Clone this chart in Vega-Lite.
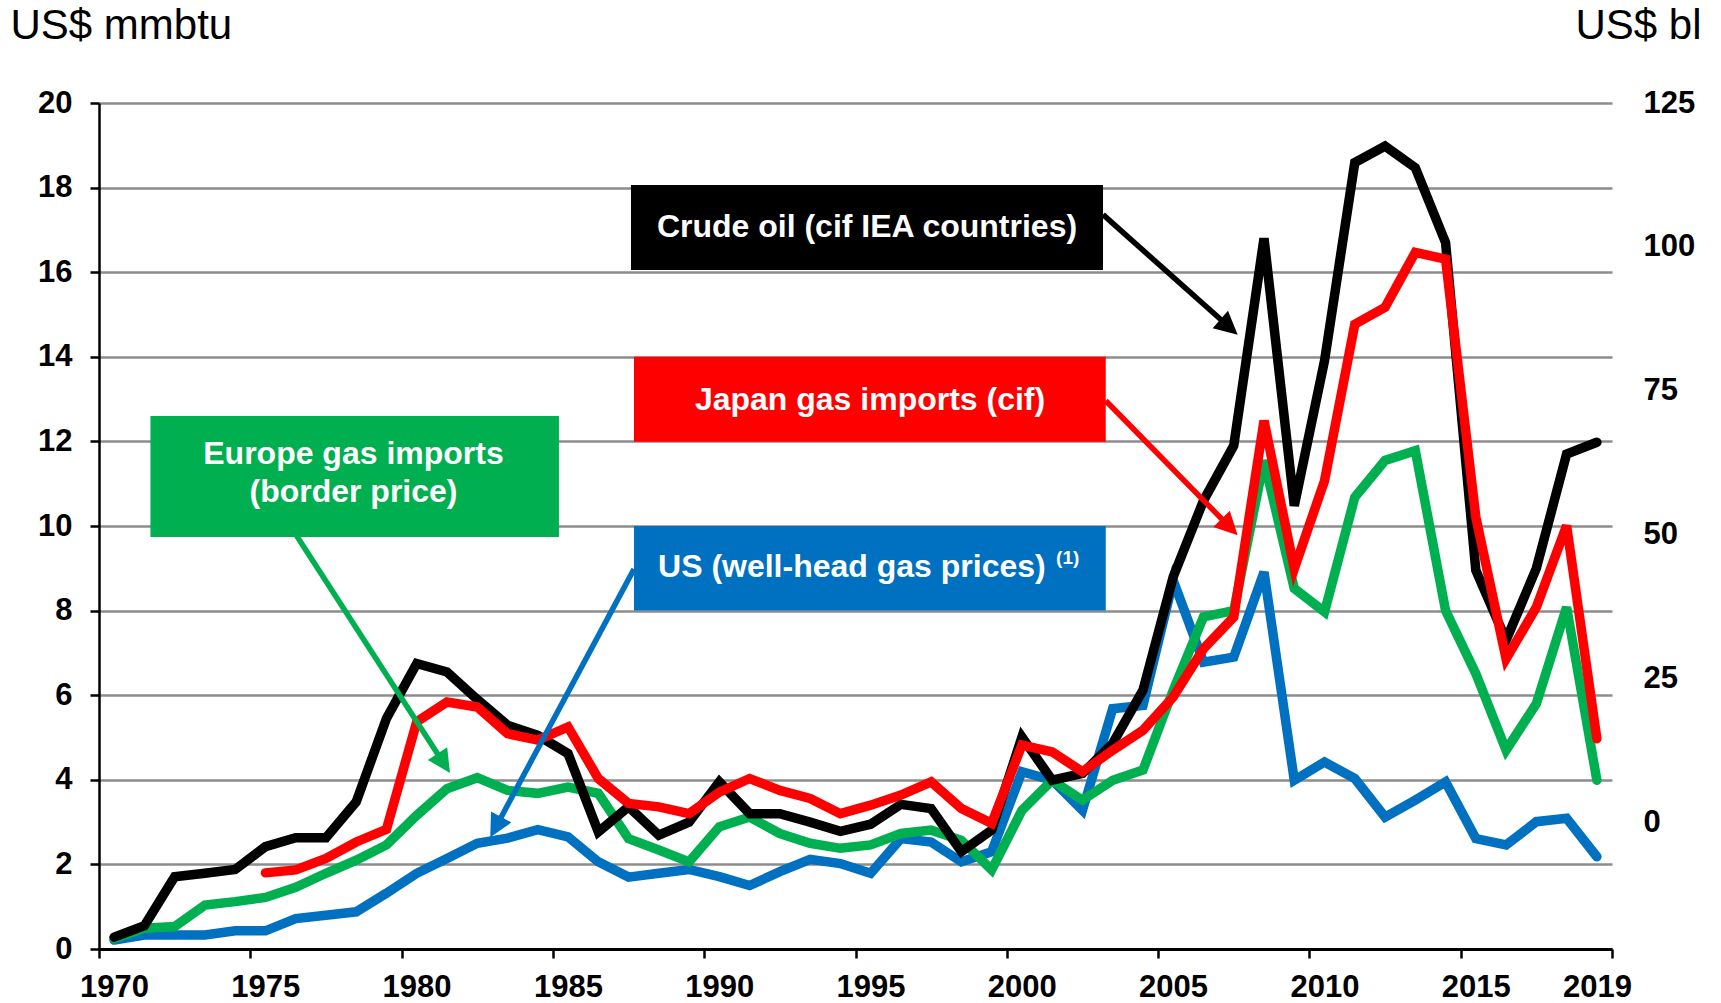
{
  "$schema": "https://vega.github.io/schema/vega-lite/v6.json",
  "autosize": {"type": "none"},
  "width": 1513,
  "height": 846,
  "padding": {"left": 99, "top": 103, "right": 109, "bottom": 54},
  "background": "white",
  "config": {"view": {"stroke": null}, "font": "Liberation Sans"},
  "datasets": {
    "crude": [
      {"year":1970,"value":0.28},{"year":1971,"value":0.55},{"year":1972,"value":1.71},{"year":1973,"value":1.79},{"year":1974,"value":1.88},
      {"year":1975,"value":2.42},{"year":1976,"value":2.63},{"year":1977,"value":2.63},{"year":1978,"value":3.48},{"year":1979,"value":5.45},
      {"year":1980,"value":6.75},{"year":1981,"value":6.55},{"year":1982,"value":5.9},{"year":1983,"value":5.29},{"year":1984,"value":5.05},
      {"year":1985,"value":4.62},{"year":1986,"value":2.77},{"year":1987,"value":3.36},{"year":1988,"value":2.69},{"year":1989,"value":3.0},
      {"year":1990,"value":3.95},{"year":1991,"value":3.2},{"year":1992,"value":3.2},{"year":1993,"value":3.0},{"year":1994,"value":2.78},
      {"year":1995,"value":2.95},{"year":1996,"value":3.42},{"year":1997,"value":3.32},{"year":1998,"value":2.3},{"year":1999,"value":2.81},
      {"year":2000,"value":5.01},{"year":2001,"value":3.99},{"year":2002,"value":4.15},{"year":2003,"value":4.86},{"year":2004,"value":6.12},
      {"year":2005,"value":8.8},{"year":2006,"value":10.6},{"year":2007,"value":11.9},{"year":2008,"value":16.8},{"year":2009,"value":10.48},
      {"year":2010,"value":13.91},{"year":2011,"value":18.59},{"year":2012,"value":18.98},{"year":2013,"value":18.47},{"year":2014,"value":16.7},
      {"year":2015,"value":8.95},{"year":2016,"value":7.3},{"year":2017,"value":9.0},{"year":2018,"value":11.7},{"year":2019,"value":11.98}
    ],
    "japan": [
      {"year":1975,"value":1.8},{"year":1976,"value":1.87},{"year":1977,"value":2.14},{"year":1978,"value":2.53},{"year":1979,"value":2.83},
      {"year":1980,"value":5.37},{"year":1981,"value":5.84},{"year":1982,"value":5.72},{"year":1983,"value":5.09},{"year":1984,"value":4.94},
      {"year":1985,"value":5.25},{"year":1986,"value":4.03},{"year":1987,"value":3.44},{"year":1988,"value":3.36},{"year":1989,"value":3.2},
      {"year":1990,"value":3.71},{"year":1991,"value":4.03},{"year":1992,"value":3.75},{"year":1993,"value":3.56},{"year":1994,"value":3.2},
      {"year":1995,"value":3.4},{"year":1996,"value":3.64},{"year":1997,"value":3.95},{"year":1998,"value":3.32},{"year":1999,"value":2.97},
      {"year":2000,"value":4.82},{"year":2001,"value":4.66},{"year":2002,"value":4.19},{"year":2003,"value":4.7},{"year":2004,"value":5.17},
      {"year":2005,"value":5.96},{"year":2006,"value":7.1},{"year":2007,"value":7.85},{"year":2008,"value":12.49},{"year":2009,"value":8.99},
      {"year":2010,"value":11.07},{"year":2011,"value":14.77},{"year":2012,"value":15.17},{"year":2013,"value":16.47},{"year":2014,"value":16.31},
      {"year":2015,"value":10.21},{"year":2016,"value":6.86},{"year":2017,"value":8.08},{"year":2018,"value":10.01},{"year":2019,"value":4.97}
    ],
    "europe": [
      {"year":1970,"value":0.25},{"year":1971,"value":0.49},{"year":1972,"value":0.53},{"year":1973,"value":1.04},{"year":1974,"value":1.12},
      {"year":1975,"value":1.22},{"year":1976,"value":1.46},{"year":1977,"value":1.79},{"year":1978,"value":2.1},{"year":1979,"value":2.46},
      {"year":1980,"value":3.16},{"year":1981,"value":3.79},{"year":1982,"value":4.05},{"year":1983,"value":3.75},{"year":1984,"value":3.68},
      {"year":1985,"value":3.83},{"year":1986,"value":3.68},{"year":1987,"value":2.61},{"year":1988,"value":2.34},{"year":1989,"value":2.06},
      {"year":1990,"value":2.89},{"year":1991,"value":3.12},{"year":1992,"value":2.73},{"year":1993,"value":2.5},{"year":1994,"value":2.38},
      {"year":1995,"value":2.46},{"year":1996,"value":2.73},{"year":1997,"value":2.81},{"year":1998,"value":2.57},{"year":1999,"value":1.87},
      {"year":2000,"value":3.28},{"year":2001,"value":3.99},{"year":2002,"value":3.52},{"year":2003,"value":3.99},{"year":2004,"value":4.23},
      {"year":2005,"value":6.12},{"year":2006,"value":7.85},{"year":2007,"value":8.0},{"year":2008,"value":11.55},{"year":2009,"value":8.52},
      {"year":2010,"value":7.97},{"year":2011,"value":10.68},{"year":2012,"value":11.55},{"year":2013,"value":11.78},{"year":2014,"value":8.0},
      {"year":2015,"value":6.51},{"year":2016,"value":4.7},{"year":2017,"value":5.8},{"year":2018,"value":8.08},{"year":2019,"value":3.99}
    ],
    "us": [
      {"year":1970,"value":0.21},{"year":1971,"value":0.33},{"year":1972,"value":0.33},{"year":1973,"value":0.33},{"year":1974,"value":0.43},
      {"year":1975,"value":0.43},{"year":1976,"value":0.72},{"year":1977,"value":0.8},{"year":1978,"value":0.88},{"year":1979,"value":1.32},
      {"year":1980,"value":1.79},{"year":1981,"value":2.14},{"year":1982,"value":2.5},{"year":1983,"value":2.62},{"year":1984,"value":2.82},
      {"year":1985,"value":2.65},{"year":1986,"value":2.06},{"year":1987,"value":1.7},{"year":1988,"value":1.79},{"year":1989,"value":1.88},
      {"year":1990,"value":1.71},{"year":1991,"value":1.5},{"year":1992,"value":1.83},{"year":1993,"value":2.12},{"year":1994,"value":2.02},
      {"year":1995,"value":1.79},{"year":1996,"value":2.61},{"year":1997,"value":2.53},{"year":1998,"value":2.06},{"year":1999,"value":2.3},
      {"year":2000,"value":4.19},{"year":2001,"value":3.99},{"year":2002,"value":3.28},{"year":2003,"value":5.68},{"year":2004,"value":5.76},
      {"year":2005,"value":8.71},{"year":2006,"value":6.78},{"year":2007,"value":6.9},{"year":2008,"value":8.91},{"year":2009,"value":3.99},
      {"year":2010,"value":4.42},{"year":2011,"value":4.03},{"year":2012,"value":3.12},{"year":2013,"value":3.52},{"year":2014,"value":3.95},
      {"year":2015,"value":2.61},{"year":2016,"value":2.46},{"year":2017,"value":3.01},{"year":2018,"value":3.09},{"year":2019,"value":2.18}
    ],
    "boxes": [
      {"name":"crude","x1":1987.08,"x2":2002.68,"y1":16.05,"y2":18.06},
      {"name":"japan","x1":1987.18,"x2":2002.77,"y1":11.99,"y2":14.0},
      {"name":"us","x1":1987.18,"x2":2002.77,"y1":8.0,"y2":10.0},
      {"name":"europe","x1":1971.2,"x2":1984.7,"y1":9.74,"y2":12.6}
    ],
    "arrows": [
      {"name":"crude","x1":2002.68,"y1":17.36,"x2":2006.84,"y2":14.71,"tx":2007.13,"ty":14.52},
      {"name":"japan","x1":2002.77,"y1":12.96,"x2":2006.86,"y2":9.98,"tx":2007.13,"ty":9.78},
      {"name":"europe","x1":1976.03,"y1":9.77,"x2":1980.89,"y2":4.39,"tx":1981.1,"ty":4.16},
      {"name":"us","x1":1987.18,"y1":8.98,"x2":1982.62,"y2":2.89,"tx":1982.43,"ty":2.64}
    ],
    "labels": [
      {"name":"crude","x":1994.88,"y":17.06,"text":"Crude oil (cif IEA countries)"},
      {"name":"japan","x":1994.98,"y":12.99,"text":"Japan gas imports (cif)"},
      {"name":"us","x":1994.38,"y":9.02,"text":"US (well-head gas prices)"},
      {"name":"europe","x":1977.91,"y":11.7,"text":"Europe gas imports\n(border price)"}
    ],
    "notes": [
      {"x":2001.13,"y":9.25,"text":"(1)"}
    ],
    "blticks": [{"bl":0},{"bl":125}]
  },
  "layer": [
    {
      "layer": [
        {
          "data": {"name": "us"},
          "mark": {"type": "line", "color": "#0070C0", "strokeWidth": 9.5, "strokeCap": "round", "strokeJoin": "miter"},
          "encoding": {
            "x": {"field": "year", "type": "quantitative",
              "scale": {"domain": [1969.5, 2019.5], "nice": false, "zero": false},
              "axis": {
                "values": [1969.5, 1974.5, 1979.5, 1984.5, 1989.5, 1994.5, 1999.5, 2004.5, 2009.5, 2014.5, 2019.5],
                "labelExpr": "datum.value == 2019.5 ? '2019' : format(datum.value + 0.5, 'd')",
                "labelOffset": {"condition": {"test": "datum.value == 2019.5", "value": -15}, "value": 15},
                "labelFlush": false, "labelOverlap": false, "labelBound": false,
                "labelFont": "Liberation Sans", "labelFontWeight": "bold", "labelFontSize": 31, "labelColor": "black",
                "labelPadding": 14,
                "domainColor": "black", "domainWidth": 3, "tickColor": "black", "tickWidth": 2.5, "tickSize": 9,
                "grid": false, "title": null, "zindex": 1
              }
            },
            "y": {"field": "value", "type": "quantitative",
              "scale": {"domain": [0, 20], "nice": false},
              "axis": {
                "values": [0, 2, 4, 6, 8, 10, 12, 14, 16, 18, 20],
                "grid": true, "gridColor": "#8c8c8c", "gridWidth": 2.5,
                "domainColor": "black", "domainWidth": 2.5, "tickColor": "black", "tickWidth": 2.5, "tickSize": 9,
                "labelFont": "Liberation Sans", "labelFontWeight": "bold", "labelFontSize": 31, "labelColor": "black", "labelPadding": 18,
                "title": "US$ mmbtu", "titleAngle": 0, "titleAlign": "left", "titleBaseline": "alphabetic",
                "titleX": -89, "titleY": -65, "titleFont": "Liberation Sans", "titleFontWeight": "normal", "titleFontSize": 42, "titleColor": "black"
              }
            }
          }
        },
        {
          "data": {"name": "europe"},
          "mark": {"type": "line", "color": "#00B050", "strokeWidth": 9.5, "strokeCap": "round", "strokeJoin": "miter"},
          "encoding": {"x": {"field": "year", "type": "quantitative"}, "y": {"field": "value", "type": "quantitative"}}
        },
        {
          "data": {"name": "crude"},
          "mark": {"type": "line", "color": "#000000", "strokeWidth": 9.5, "strokeCap": "round", "strokeJoin": "miter"},
          "encoding": {"x": {"field": "year", "type": "quantitative"}, "y": {"field": "value", "type": "quantitative"}}
        },
        {
          "data": {"name": "japan"},
          "mark": {"type": "line", "color": "#FF0000", "strokeWidth": 9.5, "strokeCap": "round", "strokeJoin": "miter"},
          "encoding": {"x": {"field": "year", "type": "quantitative"}, "y": {"field": "value", "type": "quantitative"}}
        },
        {
          "data": {"name": "boxes"},
          "mark": {"type": "rect"},
          "encoding": {
            "x": {"field": "x1", "type": "quantitative"}, "x2": {"field": "x2"},
            "y": {"field": "y1", "type": "quantitative"}, "y2": {"field": "y2"},
            "color": {"field": "name", "type": "nominal", "legend": null,
              "scale": {"domain": ["crude", "japan", "us", "europe"], "range": ["#000000", "#FF0000", "#0070C0", "#00B050"]}}
          }
        },
        {
          "data": {"name": "arrows"},
          "mark": {"type": "rule", "strokeWidth": 5.5},
          "encoding": {
            "x": {"field": "x1", "type": "quantitative"}, "x2": {"field": "x2"},
            "y": {"field": "y1", "type": "quantitative"}, "y2": {"field": "y2"},
            "color": {"field": "name", "type": "nominal", "legend": null}
          }
        },
        {
          "data": {"name": "arrows"},
          "transform": [{"filter": "datum.name == 'crude'"}],
          "mark": {"type": "point", "shape": "M0,0L-0.75,1.5L0.75,1.5Z", "filled": true, "opacity": 1, "size": 950, "angle": 131.4, "color": "#000000"},
          "encoding": {"x": {"field": "tx", "type": "quantitative"}, "y": {"field": "ty", "type": "quantitative"}}
        },
        {
          "data": {"name": "arrows"},
          "transform": [{"filter": "datum.name == 'japan'"}],
          "mark": {"type": "point", "shape": "M0,0L-0.75,1.5L0.75,1.5Z", "filled": true, "opacity": 1, "size": 950, "angle": 135.6, "color": "#FF0000"},
          "encoding": {"x": {"field": "tx", "type": "quantitative"}, "y": {"field": "ty", "type": "quantitative"}}
        },
        {
          "data": {"name": "arrows"},
          "transform": [{"filter": "datum.name == 'europe'"}],
          "mark": {"type": "point", "shape": "M0,0L-0.75,1.5L0.75,1.5Z", "filled": true, "opacity": 1, "size": 950, "angle": 147.1, "color": "#00B050"},
          "encoding": {"x": {"field": "tx", "type": "quantitative"}, "y": {"field": "ty", "type": "quantitative"}}
        },
        {
          "data": {"name": "arrows"},
          "transform": [{"filter": "datum.name == 'us'"}],
          "mark": {"type": "point", "shape": "M0,0L-0.75,1.5L0.75,1.5Z", "filled": true, "opacity": 1, "size": 950, "angle": 208.2, "color": "#0070C0"},
          "encoding": {"x": {"field": "tx", "type": "quantitative"}, "y": {"field": "ty", "type": "quantitative"}}
        },
        {
          "data": {"name": "labels"},
          "mark": {"type": "text", "color": "white", "font": "Liberation Sans", "fontWeight": "bold", "fontSize": 32, "align": "center", "baseline": "middle", "lineBreak": "\n", "lineHeight": 38},
          "encoding": {"x": {"field": "x", "type": "quantitative"}, "y": {"field": "y", "type": "quantitative"}, "text": {"field": "text"}}
        },
        {
          "data": {"name": "notes"},
          "mark": {"type": "text", "color": "white", "font": "Liberation Sans", "fontWeight": "bold", "fontSize": 19, "align": "left", "baseline": "middle"},
          "encoding": {"x": {"field": "x", "type": "quantitative"}, "y": {"field": "y", "type": "quantitative"}, "text": {"field": "text"}}
        }
      ]
    },
    {
      "data": {"name": "blticks"},
      "mark": {"type": "point", "opacity": 0},
      "encoding": {
        "y": {"field": "bl", "type": "quantitative",
          "scale": {"domain": [-22.06, 125], "nice": false, "zero": false},
          "axis": {
            "orient": "right", "values": [0, 25, 50, 75, 100, 125],
            "grid": false, "domain": false, "ticks": false,
            "labelFont": "Liberation Sans", "labelFontWeight": "bold", "labelFontSize": 31, "labelColor": "black", "labelPadding": 31, "labelAlign": "left",
            "title": "US$ bl", "titleAngle": 0, "titleAlign": "right", "titleBaseline": "alphabetic",
            "titleX": 89, "titleY": -65, "titleFont": "Liberation Sans", "titleFontWeight": "normal", "titleFontSize": 42, "titleColor": "black"
          }
        }
      }
    }
  ],
  "resolve": {"scale": {"y": "independent"}, "axis": {"y": "independent"}}
}
